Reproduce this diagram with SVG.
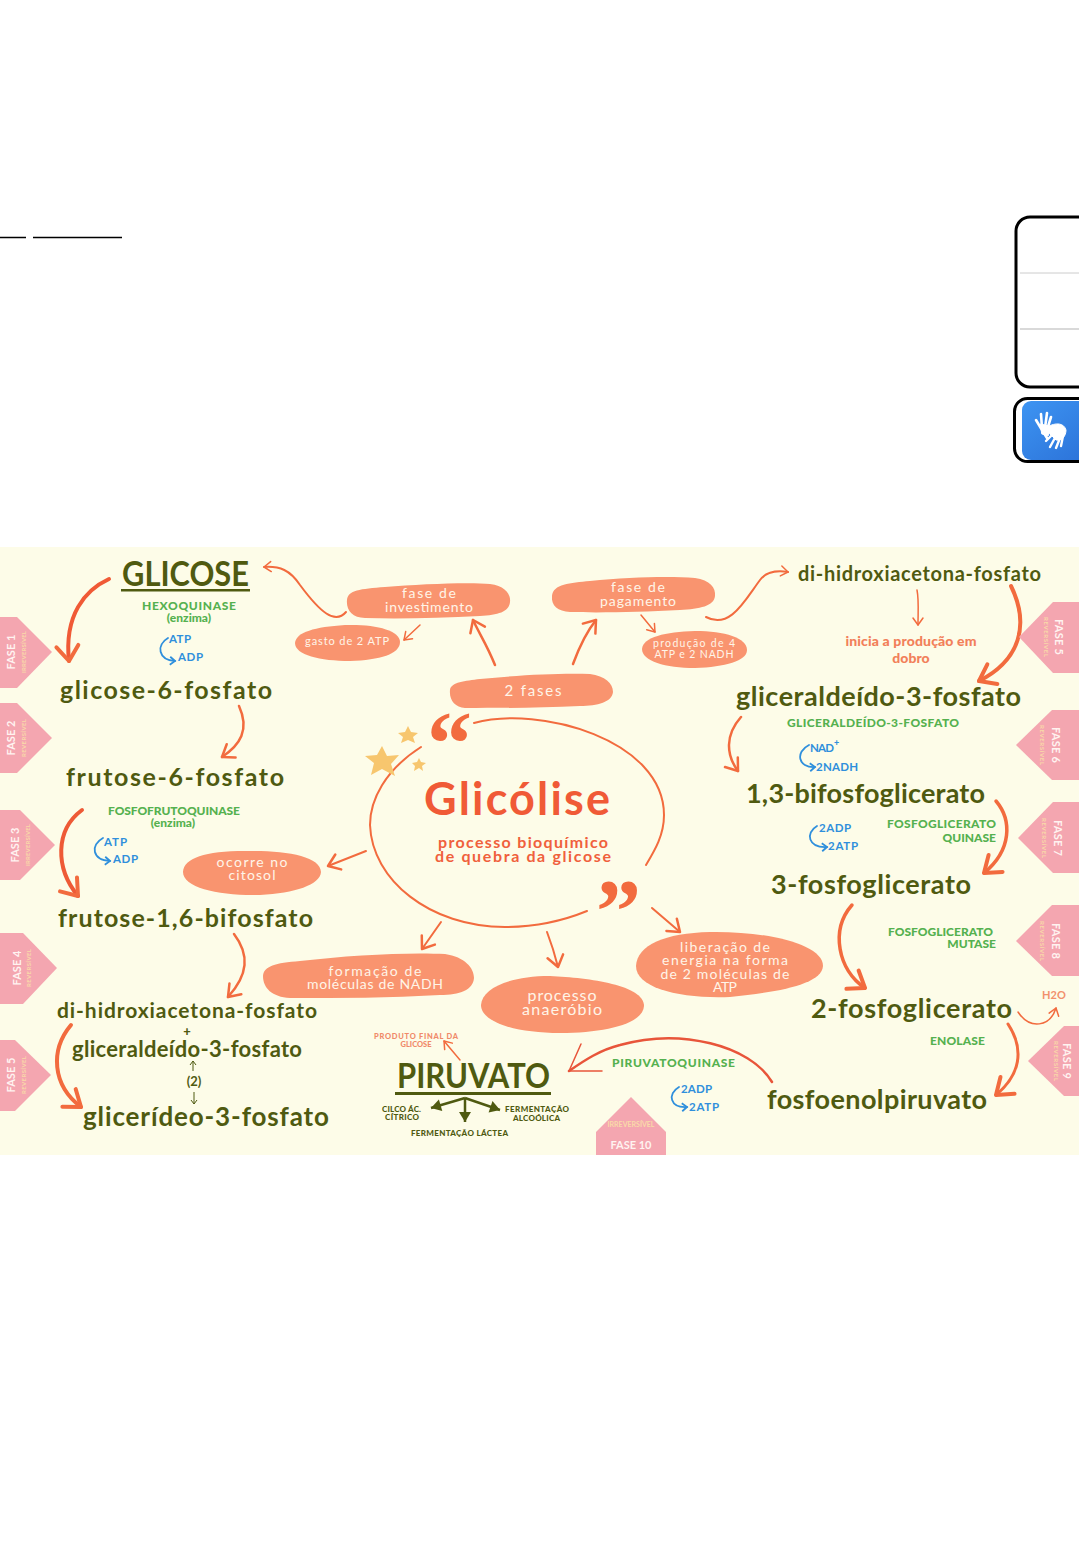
<svg xmlns="http://www.w3.org/2000/svg" width="1079" height="1562" viewBox="0 0 1079 1562">
<style>
text{font-family:"Lato","Noto Sans","Liberation Sans",sans-serif}
.c{text-anchor:middle}.r{text-anchor:end}
.h1{font-size:34px;fill:#4f5a10;font-weight:700}
.m{font-size:25px;fill:#4f5a10;font-weight:700}
.e{font-size:12px;fill:#55b14f;font-weight:900}
.b{font-size:11.500px;fill:#2f8fdc;font-weight:700}
.p{fill:#f9946f}
.w{font-size:14px;fill:#fff5e8}
.tag{fill:#f4a6b0}
.f{font-size:11px;fill:#fff3f0;font-weight:700}
.s{font-size:6px;fill:#f9d9a8;font-weight:700}
.l{fill:none;stroke:#f26b3e;stroke-linecap:round;stroke-linejoin:round}
.t{stroke-width:4;marker-end:url(#hT)}
.n{stroke-width:2.5;marker-end:url(#hM)}
.x{stroke-width:1.5;marker-end:url(#hS)}
.bl{fill:none;stroke:#2f8fdc;stroke-width:1.8;marker-end:url(#hB);stroke-linecap:round}
.d{fill:#4f5a10;font-weight:900;font-size:8px}
.star{fill:#f7c66e}
.q{fill:#f26b3e;font-size:90px;font-weight:700;font-family:"Liberation Serif",serif}
</style>
<defs>
<marker id="hT" markerUnits="userSpaceOnUse" viewBox="-20 -14 24 28" refX="0" refY="0" markerWidth="24" markerHeight="28" orient="auto" overflow="visible"><path d="M-15,-11 L0,0 L-15,11" fill="none" stroke="#f26b3e" stroke-width="4" stroke-linecap="round" stroke-linejoin="round"/></marker>
<marker id="hM" markerUnits="userSpaceOnUse" viewBox="-16 -10 18 20" refX="0" refY="0" markerWidth="18" markerHeight="20" orient="auto" overflow="visible"><path d="M-11,-8 L0,0 L-11,8" fill="none" stroke="#f26b3e" stroke-width="2.5" stroke-linecap="round" stroke-linejoin="round"/></marker>
<marker id="hS" markerUnits="userSpaceOnUse" viewBox="-10 -7 12 14" refX="0" refY="0" markerWidth="12" markerHeight="14" orient="auto" overflow="visible"><path d="M-7,-5 L0,0 L-7,5" fill="none" stroke="#f26b3e" stroke-width="1.5" stroke-linecap="round" stroke-linejoin="round"/></marker>
<marker id="hB" markerUnits="userSpaceOnUse" viewBox="-8 -6 10 12" refX="0" refY="0" markerWidth="10" markerHeight="12" orient="auto" overflow="visible"><path d="M-5,-4 L0,0 L-5,4" fill="none" stroke="#2f8fdc" stroke-width="1.8"/></marker>
<marker id="hD" markerUnits="userSpaceOnUse" viewBox="-10 -8 12 16" refX="0" refY="0" markerWidth="12" markerHeight="16" orient="auto" overflow="visible"><path d="M-10,-6 L0,0 L-10,6 Z" fill="#4f5a10"/></marker>
<marker id="hK" markerUnits="userSpaceOnUse" viewBox="-5 -4 6 8" refX="0" refY="0" markerWidth="6" markerHeight="8" orient="auto" overflow="visible"><path d="M-4,-3 L0,0 L-4,3" fill="none" stroke="#4f5a10" stroke-width="1"/></marker>
<linearGradient id="blue" x1="0" y1="0" x2="1" y2="1"><stop offset="0" stop-color="#3d94f2"/><stop offset="1" stop-color="#2a6fd6"/></linearGradient>
</defs>

<rect width="1079" height="1562" fill="#fff"/>
<g id="top-lines" stroke="#000" stroke-width="1.5"><path d="M0 237.5H26M33 237.5H122"/></g>
<g id="side-panel">
<rect x="1016" y="217" width="80" height="170" rx="14" fill="#fff" stroke="#000" stroke-width="3"/>
<path d="M1020 273H1079" stroke="#ccc" stroke-width="1"/><path d="M1020 329H1079" stroke="#ccc" stroke-width="1.5"/>
</g>
<g id="sign-button">
<rect x="1014.500" y="398.500" width="90" height="63" rx="13" fill="#fff" stroke="#000" stroke-width="3"/>
<rect x="1022" y="401" width="80" height="59" rx="9" fill="url(#blue)"/>
<g fill="#fff" stroke="#fff" stroke-linecap="round">
<path d="M1042 430L1036 420M1042 428L1041 414M1045 428L1047 413M1047 430L1051 417M1042 430L1047 438" stroke-width="2.600" fill="none"/>
<path d="M1041 424L1052 427L1048 436L1042 434Z" stroke-width="1"/>
<path d="M1047 427C1056 422 1064 423 1066 430C1066 436 1062 441 1056 440L1050 434Z" stroke-width="1"/>
<path d="M1046 441L1053 434M1050 447L1056 436M1056 448L1060 438M1061 446L1063 436" stroke-width="2.400" fill="none"/>
</g>
</g>

<rect id="panel" x="0" y="547" width="1079" height="608" fill="#fdfce8"/>

<g id="connectors">
<path class="l t" style="stroke:#f05a36" d="M109 579C85 590 64 615 69 661"/>
<path class="l n" d="M239 706C250 730 240 745 222 757"/>
<path class="l t" style="stroke:#ee5a36" d="M82 810C55 830 55 868 78 896"/>
<path class="l n" d="M234 934C250 955 248 975 228 997"/>
<path class="l t" d="M71 1025C50 1050 52 1085 81 1107"/>
<path class="l x" style="stroke-width:2" d="M346 612C335 625 320 612 300 585C290 570 280 566 264 567"/>
<path class="l x" style="stroke-width:2" d="M706 617C730 630 745 600 760 580C766 572 775 570 788 572"/>
<path class="l x" d="M917 590C919 600 918 612 918 625"/>
<path class="l t" d="M1011 586C1030 625 1020 660 979 681"/>
<path class="l n" d="M741 717C725 735 726 755 738 771"/>
<path class="l t" style="stroke-width:3.500" d="M996 801C1012 820 1012 850 984 873"/>
<path class="l t" style="stroke-width:3.500" d="M852 905C830 930 838 970 865 988"/>
<path class="l t" style="stroke-width:3" d="M1008 1024C1025 1050 1020 1075 996 1095"/>
<path class="l x" d="M1018 1012C1030 1030 1050 1027 1056 1008"/>
<path class="l" style="stroke:#e8553a;stroke-width:2.500" d="M772 1082C750 1045 680 1028 620 1045C600 1050 585 1060 569 1071"/>
<path class="l" style="stroke:#e8553a;stroke-width:1.500" d="M581 1044L569 1071L602 1071"/>
<path class="l" style="stroke-width:2" d="M474 723C540 705 664 740 664 815C664 835 655 850 646 865"/>
<path class="l" style="stroke-width:2" d="M421 747C385 770 370 800 370 825C372 880 430 927 505 927C540 927 565 920 587 911"/>
<path class="l n" d="M495 665C487 645 480 635 473 620"/>
<path class="l n" d="M573 664C580 645 588 630 596 620"/>
<path class="l x" d="M420 625L404 640"/>
<path class="l x" d="M641 615L655 632"/>
<path class="l n" style="stroke-width:2" d="M366 851L328 866"/>
<path class="l n" style="stroke-width:2" d="M441 922L422 949"/>
<path class="l n" style="stroke-width:2" d="M547 932C552 945 555 955 558 967"/>
<path class="l n" style="stroke-width:2" d="M652 908L680 932"/>
<path class="l x" d="M460 1060L444 1041"/>
<path class="bl" d="M168 638C156 645 158 660 175 661"/>
<path class="bl" d="M103 838C90 845 92 860 110 861"/>
<path class="bl" d="M809 745C795 752 798 768 815 767"/>
<path class="bl" d="M817 826C805 833 808 848 827 847"/>
<path class="bl" d="M679 1087C667 1094 670 1108 687 1107"/>
<path d="M193 1071V1061" stroke="#4f5a10" stroke-width="1" marker-end="url(#hK)"/>
<path d="M194 1092V1104" stroke="#4f5a10" stroke-width="1" marker-end="url(#hK)"/>
<path d="M465 1098L431 1108" fill="none" stroke="#4f5a10" stroke-width="2.500" marker-end="url(#hD)"/>
<path d="M465 1098L500 1110" fill="none" stroke="#4f5a10" stroke-width="2.500" marker-end="url(#hD)"/>
<path d="M465 1098V1122" fill="none" stroke="#4f5a10" stroke-width="2.500" marker-end="url(#hD)"/>
</g>

<g id="titulo">
<text class="c" x="517" y="815" style="font-size:45px;fill:#f05a36;font-weight:700" textLength="186" lengthAdjust="spacing">Glicólise</text>
<text class="c" x="523" y="848" style="font-size:16px;fill:#f0603c;font-weight:700" textLength="170">processo bioquímico</text>
<text class="c" x="523" y="862" style="font-size:16px;fill:#f0603c;font-weight:700" textLength="176">de quebra da glicose</text>
</g>
<g id="aspas">
<text class="q" x="427" y="774">“</text>
<text class="q" x="596" y="942">”</text>
</g>
<g id="estrelas" class="star">
<path d="M382 746L387 756L399 755L391 764L395 776L382 769L371 775L374 763L365 756L377 755Z"/>
<path d="M408 726L411 732L418 733L413 737L415 743L408 740L401 743L403 737L398 733L405 732Z"/>
<path d="M419 758L421 762L426 763L422 766L423 771L419 768L414 771L415 766L412 763L417 762Z"/>
</g>

<g id="glicose"><text class="h1" x="122" y="586" textLength="127" lengthAdjust="spacingAndGlyphs">GLICOSE</text><rect x="121" y="589" width="129" height="2.500" fill="#4f5a10"/></g>
<g id="hexoquinase"><text class="e c" x="189" y="610" textLength="94">HEXOQUINASE</text><text class="e c" x="189" y="622" style="font-size:12px">(enzima)</text></g>
<g id="atp1"><text class="b" x="169" y="643" textLength="22">ATP</text><text class="b" x="178" y="661" textLength="25">ADP</text></g>
<g id="g6p"><text class="m" x="60" y="699" textLength="212">glicose-6-fosfato</text></g>
<g id="f6p"><text class="m" x="66" y="786" textLength="218">frutose-6-fosfato</text></g>
<g id="pfk"><text class="e" x="108" y="815" textLength="132">FOSFOFRUTOQUINASE</text><text class="e c" x="173" y="827" style="font-size:12px">(enzima)</text></g>
<g id="atp3"><text class="b" x="104" y="846" textLength="23">ATP</text><text class="b" x="113" y="863" textLength="25">ADP</text></g>
<g id="f16bp"><text class="m" x="58" y="927" textLength="255">frutose-1,6-bifosfato</text></g>
<g id="dhap-esq"><text class="m" style="font-size:21px" x="57" y="1018" textLength="260">di-hidroxiacetona-fosfato</text></g>
<g id="mais"><text class="c" x="187" y="1036" style="font-size:13px;fill:#4f5a10;font-weight:900">+</text></g>
<g id="g3p-esq"><text class="m" style="font-size:22px" x="72" y="1057" textLength="230">gliceraldeído-3-fosfato</text></g>
<g id="dois"><text class="c" x="194" y="1086" style="font-size:13px;fill:#4f5a10;font-weight:700">(2)</text></g>
<g id="glicerideo"><text class="m" style="font-size:26px" x="83" y="1126" textLength="246">glicerídeo-3-fosfato</text></g>

<g id="dhap-dir"><text class="m" style="font-size:20px" x="798" y="581" textLength="243">di-hidroxiacetona-fosfato</text></g>
<g id="inicia"><text class="c" x="911" y="646" style="font-size:14px;fill:#f2805a;font-weight:900" textLength="131">inicia a produção em</text><text class="c" x="911" y="663" style="font-size:14px;fill:#f2805a;font-weight:900">dobro</text></g>
<g id="g3p-dir"><text class="m" style="font-size:27px" x="736" y="706" textLength="285">gliceraldeído-3-fosfato</text></g>
<g id="g3pd"><text class="e" x="787" y="727" textLength="172">GLICERALDEÍDO-3-FOSFATO</text></g>
<g id="nad"><text class="b" x="810" y="752" textLength="24">NAD</text><text x="834" y="746" style="font-size:9px;fill:#2f8fdc;font-weight:900">+</text><text class="b" x="816" y="771" textLength="42">2NADH</text></g>
<g id="bpg"><text class="m" style="font-size:27px" x="746" y="803" textLength="239">1,3-bifosfoglicerato</text></g>
<g id="adp7"><text class="b" x="819" y="832" textLength="32">2ADP</text><text class="b" x="828" y="850" textLength="30">2ATP</text></g>
<g id="pgk"><text class="e" x="887" y="828" textLength="109">FOSFOGLICERATO</text><text class="e r" x="996" y="842">QUINASE</text></g>
<g id="p3g"><text class="m" style="font-size:27px" x="771" y="894" textLength="200">3-fosfoglicerato</text></g>
<g id="mutase"><text class="e" x="888" y="936" textLength="105">FOSFOGLICERATO</text><text class="e r" x="996" y="948">MUTASE</text></g>
<g id="p2g"><text class="m" style="font-size:27px" x="811" y="1018" textLength="201">2-fosfoglicerato</text></g>
<g id="h2o"><text x="1042" y="999" style="font-size:11px;fill:#f2906c;font-weight:700" textLength="24">H2O</text></g>
<g id="enolase"><text class="e" x="930" y="1045" textLength="55">ENOLASE</text></g>
<g id="pep"><text class="m" style="font-size:27px" x="767" y="1109" textLength="220">fosfoenolpiruvato</text></g>
<g id="pk"><text class="e" x="612" y="1067" textLength="123">PIRUVATOQUINASE</text></g>
<g id="adp10"><text class="b" x="681" y="1093" textLength="31">2ADP</text><text class="b" x="689" y="1111" textLength="30">2ATP</text></g>

<g id="piruvato"><text class="h1" x="397" y="1088" textLength="153" lengthAdjust="spacingAndGlyphs">PIRUVATO</text><rect x="395" y="1092" width="156" height="3" fill="#4f5a10"/></g>
<g id="produto"><text class="c" x="416" y="1039" style="font-size:7.500px;fill:#f08a6a;font-weight:900" textLength="84">PRODUTO FINAL DA</text><text class="c" x="416" y="1047" style="font-size:7.500px;fill:#f08a6a;font-weight:900">GLICOSE</text></g>
<g id="ciclo"><text class="d" x="382" y="1112" textLength="39">CILCO ÁC.</text><text class="d" x="385" y="1120" textLength="34">CÍTRICO</text></g>
<g id="alcoolica"><text class="d" x="505" y="1112" textLength="64">FERMENTAÇÃO</text><text class="d" x="513" y="1121" textLength="47">ALCOÓLICA</text></g>
<g id="lactea"><text class="d" x="411" y="1136" textLength="97">FERMENTAÇÃO LÁCTEA</text></g>

<g id="n-investimento"><path class="p" d="M347 600C348 590 360 589 385 587C420 584 470 582 490 584C505 586 511 594 510 602C509 612 498 615 480 616C440 618 400 619 365 618C352 618 346 610 347 600Z"/><text class="w c" x="429" y="598" textLength="54">fase de</text><text class="w c" x="429" y="612" textLength="88">investimento</text></g>
<g id="n-gasto"><path class="p" d="M295 643C296 632 315 627 345 625C375 624 400 630 400 642C400 654 380 660 350 661C320 661 295 655 295 643Z"/><text class="w" style="font-size:11px" x="305" y="645" textLength="84">gasto de 2 ATP</text></g>
<g id="n-pagamento"><path class="p" d="M552 596C553 584 570 583 590 581C630 577 670 576 695 578C710 580 716 588 715 596C714 606 700 609 680 610C640 612 600 613 570 612C558 611 551 606 552 596Z"/><text class="w c" x="638" y="592" textLength="54">fase de</text><text class="w c" x="638" y="606" textLength="76">pagamento</text></g>
<g id="n-producao"><path class="p" d="M642 649C643 637 665 632 695 631C725 631 747 638 747 650C747 661 725 667 695 668C665 668 642 661 642 649Z"/><text class="w c" style="font-size:10.500px" x="694" y="647" textLength="82">produção de 4</text><text class="w c" style="font-size:10.500px" x="694" y="658" textLength="79">ATP e 2 NADH</text></g>
<g id="n-2fases"><path class="p" d="M450 690C451 682 465 681 480 679C520 675 560 673 590 674C605 676 613 683 613 692C612 702 598 706 580 706C540 708 500 708 465 708C455 707 449 700 450 690Z"/><text class="w c" style="font-size:15px" x="533" y="696" textLength="57">2 fases</text></g>
<g id="n-citosol"><path class="p" d="M183 872C184 858 205 851 245 851C285 850 321 856 321 872C320 885 295 893 260 895C220 896 183 888 183 872Z"/><text class="w c" style="font-size:14px" x="252" y="867" textLength="71">ocorre no</text><text class="w c" style="font-size:14px" x="252" y="880" textLength="47">citosol</text></g>
<g id="n-nadh"><path class="p" d="M263 976C264 966 275 963 300 961C350 955 410 952 445 954C465 957 474 968 474 978C473 990 460 995 440 995C390 998 340 998 290 998C272 997 263 988 263 976Z"/><text class="w c" style="font-size:14px" x="375" y="976" textLength="93">formação de</text><text class="w c" style="font-size:14px" x="375" y="989" textLength="136">moléculas de NADH</text></g>
<g id="n-anaerobio"><path class="p" d="M481 1005C482 988 510 976 550 976C590 978 644 985 644 1006C643 1024 605 1033 560 1033C515 1033 481 1022 481 1005Z"/><text class="w c" style="font-size:16px" x="562" y="1001" textLength="69">processo</text><text class="w c" style="font-size:16px" x="562" y="1015" textLength="80">anaeróbio</text></g>
<g id="n-liberacao"><path class="p" d="M636 966C637 945 665 933 710 932C770 931 823 945 823 966C822 984 780 992 730 997C680 999 636 988 636 966Z"/><text class="w c" x="725" y="952" textLength="90">liberação de</text><text class="w c" x="725" y="965" textLength="126">energia na forma</text><text class="w c" x="725" y="979" textLength="129">de 2 moléculas de</text><text class="w c" x="725" y="992" textLength="24">ATP</text></g>

<g id="fase1"><path class="tag" d="M0 617H17L52 652L17 688H0Z"/><text class="f c" transform="translate(15,652) rotate(-90)" textLength="35">FASE 1</text><text class="s c" transform="translate(26,652) rotate(-90)" textLength="42">IRREVERSÍVEL</text></g>
<g id="fase2"><path class="tag" d="M0 703H17L52 738L17 773H0Z"/><text class="f c" transform="translate(15,738) rotate(-90)" textLength="35">FASE 2</text><text class="s c" transform="translate(26,738) rotate(-90)" textLength="38">REVERSÍVEL</text></g>
<g id="fase3"><path class="tag" d="M0 810H20L55 845L20 880H0Z"/><text class="f c" transform="translate(19,845) rotate(-90)" textLength="35">FASE 3</text><text class="s c" transform="translate(30,845) rotate(-90)" textLength="42">IRREVERSÍVEL</text></g>
<g id="fase4"><path class="tag" d="M0 933H23L57 968L23 1004H0Z"/><text class="f c" transform="translate(21,968) rotate(-90)" textLength="35">FASE 4</text><text class="s c" transform="translate(31,968) rotate(-90)" textLength="38">REVERSÍVEL</text></g>
<g id="fase5a"><path class="tag" d="M0 1040H15L51 1075L15 1111H0Z"/><text class="f c" transform="translate(15,1075) rotate(-90)" textLength="35">FASE 5</text><text class="s c" transform="translate(26,1075) rotate(-90)" textLength="38">REVERSÍVEL</text></g>
<g id="fase5b"><path class="tag" d="M1079 602H1053L1019 637L1053 673H1079Z"/><text class="f c" transform="translate(1055,637) rotate(90)" textLength="36">FASE 5</text><text class="s c" transform="translate(1044,637) rotate(90)" textLength="40">REVERSÍVEL</text></g>
<g id="fase6"><path class="tag" d="M1079 710H1052L1016 745L1052 780H1079Z"/><text class="f c" transform="translate(1052,745) rotate(90)" textLength="36">FASE 6</text><text class="s c" transform="translate(1040,745) rotate(90)" textLength="40">REVERSÍVEL</text></g>
<g id="fase7"><path class="tag" d="M1079 802H1053L1018 838L1053 873H1079Z"/><text class="f c" transform="translate(1054,838) rotate(90)" textLength="36">FASE 7</text><text class="s c" transform="translate(1042,838) rotate(90)" textLength="40">REVERSÍVEL</text></g>
<g id="fase8"><path class="tag" d="M1079 905H1052L1016 941L1052 976H1079Z"/><text class="f c" transform="translate(1052,941) rotate(90)" textLength="36">FASE 8</text><text class="s c" transform="translate(1040,941) rotate(90)" textLength="40">REVERSÍVEL</text></g>
<g id="fase9"><path class="tag" d="M1079 1026H1064L1028 1061L1064 1096H1079Z"/><text class="f c" transform="translate(1063,1061) rotate(90)" textLength="36">FASE 9</text><text class="s c" transform="translate(1054,1061) rotate(90)" textLength="40">REVERSÍVEL</text></g>
<g id="fase10"><path class="tag" d="M631 1097L666 1132V1155H596V1132Z"/><text class="s c" style="font-size:7px" x="631" y="1127" textLength="47">IRREVERSÍVEL</text><text class="f c" x="631" y="1149" textLength="41">FASE 10</text></g>
</svg>
